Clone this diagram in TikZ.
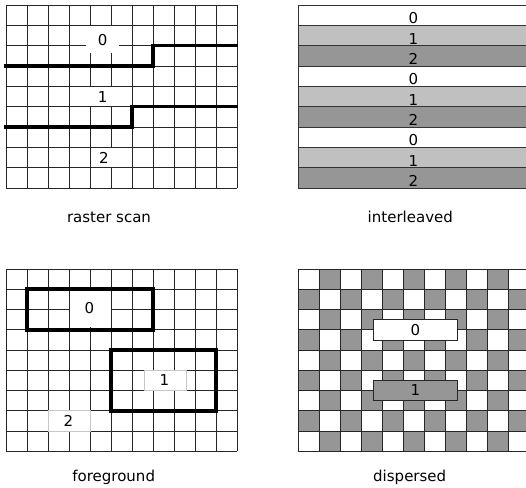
\documentclass[tikz,border=0pt]{standalone}
\usepackage{fontspec}
\setmainfont{DejaVu Sans}
\definecolor{lg}{HTML}{C0C0C0}
\definecolor{dg}{HTML}{969696}
\newcommand\mytxtfont{\fontsize{15}{18}\selectfont}
\tikzset{
  gridline/.style={draw=black!85, line width=0.9pt},
  thickline/.style={draw=black, line width=3.6pt, line join=miter},
  hidebox/.style={fill=white, draw=none},
  softbox/.style={fill=white, draw=black!22, line width=0.9pt},
  digit/.style={inner sep=0pt, font=\mytxtfont},
  caption/.style={anchor=base, inner sep=0pt, font=\mytxtfont},
}
\begin{document}
\begin{tikzpicture}[x=1pt,y=-1pt]
\useasboundingbox (0,0) rectangle (526,487);
\fill[white] (0,0) rectangle (526,487);

% ---------------- raster scan ----------------
\foreach \i in {0,...,11} \draw[gridline] ({6+21*\i},5) -- ({6+21*\i},188);
\foreach \j in {0,...,9} \draw[gridline] (6,{5+20.333*\j}) -- (237,{5+20.333*\j});
\fill[white] (86,26) rectangle (119,53);
\fill[white] (69.5,86.8) rectangle (130,106);
\fill[white] (90.5,147.8) rectangle (118,167.2);
\draw[thickline] (4,66) -- (153,66) -- (153,45.67) -- (238,45.67);
\draw[thickline] (4,127) -- (132,127) -- (132,106.67) -- (238,106.67);
\node[digit] (r0) at (102.7,40) {0};
\node[digit] (r1) at (102.7,96.7) {1};
\node[digit] (r2) at (104,157.5) {2};
\node[caption] (capr) at (109,222) {raster scan};

% ---------------- interleaved ----------------
\begin{scope}
\clip (0,0) rectangle (526,487);
\foreach \j in {0,...,8} {
  \pgfmathtruncatemacro\k{mod(\j,3)}
  \ifnum\k=0 \def\stripcol{white}\fi
  \ifnum\k=1 \def\stripcol{lg}\fi
  \ifnum\k=2 \def\stripcol{dg}\fi
  \filldraw[fill=\stripcol, draw=black!80, line width=0.9pt] (298,{5+20.333*\j}) rectangle (529,{5+20.333*(\j+1)});
  \node[digit] at (413.5,{5+20.333*\j+13.3}) {\k};
}
\end{scope}
\node[caption] (capi) at (410.3,222) {interleaved};

% ---------------- foreground ----------------
\foreach \i in {0,...,11} \draw[gridline] ({6+21*\i},269) -- ({6+21*\i},451.25);
\foreach \j in {0,...,9} \draw[gridline] (6,{269+20.25*\j}) -- (237,{269+20.25*\j});
\fill[white] (69.5,291) rectangle (110.5,327);
\draw[softbox] (144,370.25) rectangle (186,390.5);
\draw[softbox] (48,410.75) rectangle (90,431);
\draw[thickline] (27,289.25) rectangle (153,329.75);
\draw[thickline] (111,350) rectangle (216,410.75);
\node[digit] (f0) at (89.5,308.3) {0};
\node[digit] (f1) at (164.5,379.7) {1};
\node[digit] (f2) at (68.5,420.5) {2};
\node[caption] (capf) at (113.7,481) {foreground};

% ---------------- dispersed ----------------
\begin{scope}
\clip (0,0) rectangle (526,487);
\foreach \i in {0,...,10} {
  \foreach \j in {0,...,8} {
    \pgfmathtruncatemacro\myparity{mod(\i+\j,2)}
    \ifnum\myparity=1 \fill[dg] ({298+21*\i},{269+20.25*\j}) rectangle ({298+21*(\i+1)},{269+20.25*(\j+1)});\fi
  }
}
\foreach \i in {0,...,11} \draw[gridline] ({298+21*\i},269) -- ({298+21*\i},451.25);
\foreach \j in {0,...,9} \draw[gridline] (298,{269+20.25*\j}) -- (530,{269+20.25*\j});
\end{scope}
\node[draw=black!85, fill=white, line width=0.9pt, minimum width=84pt, minimum height=20.5pt, inner sep=0pt, font=\mytxtfont] (d0) at (415.3,329.7) {0};
\node[draw=black!85, fill=dg, line width=0.9pt, minimum width=84pt, minimum height=20.5pt, inner sep=0pt, font=\mytxtfont] (d1) at (415.3,390.2) {1};
\node[caption] (capd) at (409.7,481) {dispersed};
\end{tikzpicture}
\end{document}
